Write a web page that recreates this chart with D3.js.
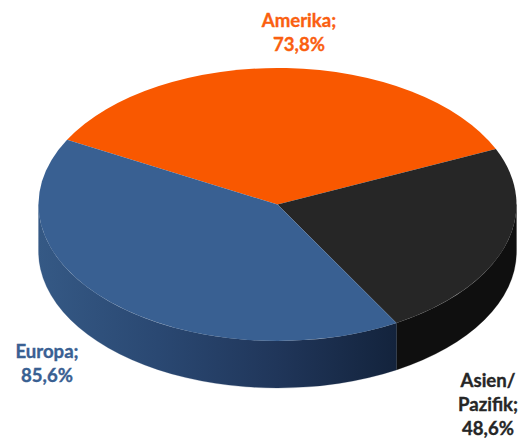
<!DOCTYPE html>
<html>
<head>
<meta charset="utf-8">
<script src="https://cdn.jsdelivr.net/npm/d3@7"></script>
<style>
  html, body { margin: 0; padding: 0; background: #fff; }
  svg { display: block; }
  text { font-family: Lato, "Open Sans", sans-serif; font-weight: 700; font-size: 18.6px; text-anchor: middle; stroke-width: 0.35px; }
</style>
</head>
<body>
<svg id="chart" width="525" height="439"></svg>
<script>
// Regional shares, clockwise from the Amerika slice
const regions = ["Amerika", "Asien/Pazifik", "Europa"];
const shares = [73.8, 48.6, 85.6];
const labelLines = [["Amerika;", "73,8%"], ["Asien/", "Pazifik;", "48,6%"], ["Europa;", "85,6%"]];
const topColors = ["#f95800", "#262626", "#396092"];
const wallStops = [["#b84200", "#b84200"], ["#0f0f0f", "#0f0f0f"], ["#355985", "#2a4872", "#20365a", "#13233c"]];
const labelColors = ["#fa5f10", "#262626", "#396092"];
const labelCenters = [[299, 27], [488, 387], [47, 358]];

const width = 525, height = 439;
const cx = 277.5, cy = 204.5, rx = 239, ry = 136.5, depth = 47;
const squash = ry / rx;
const lineStep = 24;
const startDeg = -61.7;

const svg = d3.select("#chart").attr("viewBox", [0, 0, width, height]);
const defs = svg.append("defs");

const pie = d3.pie()
  .value(d => d)
  .sort(null)
  .startAngle(startDeg * Math.PI / 180)
  .endAngle((startDeg + 360) * Math.PI / 180);
const slices = pie(shares);

const arc = d3.arc().innerRadius(0).outerRadius(rx);

// Everything inside this group is drawn as a circle and flattened into an ellipse
const disc = svg.append("g")
  .attr("transform", `translate(${cx},${cy}) scale(1,${squash})`);

// d3.arc measures clockwise from north, d3.path from east
const toPathAngle = a => a - Math.PI / 2;

function wallPath(a0, a1) {
  const p = d3.path();
  const drop = depth / squash;
  p.arc(0, 0, rx, toPathAngle(a0), toPathAngle(a1), false);
  p.lineTo(rx * Math.cos(toPathAngle(a1)), drop + rx * Math.sin(toPathAngle(a1)));
  p.arc(0, drop, rx, toPathAngle(a1), toPathAngle(a0), true);
  p.closePath();
  return p.toString();
}

// The rim is visible only on the front half of the disc
const frontStart = Math.PI / 2, frontEnd = 3 * Math.PI / 2;
slices.forEach((s, i) => {
  const a0 = Math.max(s.startAngle, frontStart);
  const a1 = Math.min(s.endAngle, frontEnd);
  if (a1 <= a0) return;
  const id = `wall-${i}`;
  const g = defs.append("linearGradient").attr("id", id)
    .attr("x1", 0).attr("y1", 0).attr("x2", 1).attr("y2", 0);
  // Stops run from the left edge of the rim towards the right
  wallStops[i].forEach((c, k, all) => {
    g.append("stop").attr("offset", k / (all.length - 1)).attr("stop-color", c);
  });
  disc.append("path")
    .attr("d", wallPath(a0, a1))
    .attr("fill", `url(#${id})`)
    .attr("stroke", `url(#${id})`)
    .attr("stroke-width", 0.3);
});

disc.selectAll("path.slice")
  .data(slices)
  .join("path")
  .attr("class", "slice")
  .attr("d", arc)
  .attr("fill", (d, i) => topColors[i]);

// Multi-line value labels
svg.selectAll("text.label")
  .data(regions)
  .join("text")
  .attr("class", "label")
  .attr("fill", (d, i) => labelColors[i])
  .attr("stroke", (d, i) => labelColors[i])
  .each(function (d, i) {
    const t = d3.select(this);
    labelLines[i].forEach((line, k) => {
      t.append("tspan")
        .attr("x", labelCenters[i][0])
        .attr("y", labelCenters[i][1] + k * lineStep)
        .text(line);
    });
  });
</script>
</body>
</html>
